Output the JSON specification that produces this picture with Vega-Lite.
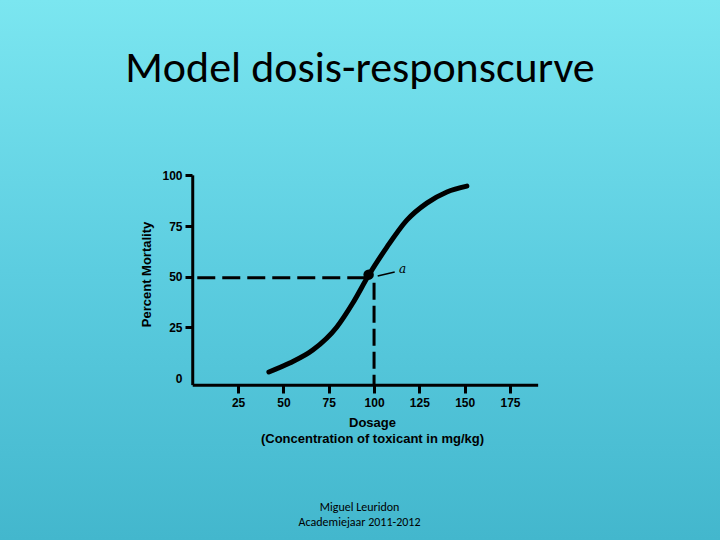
{
  "$schema": "https://vega.github.io/schema/vega-lite/v6.json",
  "width": 720,
  "height": 540,
  "autosize": {"type": "none"},
  "padding": 0,
  "background": "#5ccde0",
  "view": {
    "stroke": null,
    "fill": {
      "gradient": "linear",
      "x1": 0, "y1": 0, "x2": 0, "y2": 1,
      "stops": [
        {"offset": 0, "color": "#7be6f0"},
        {"offset": 0.5, "color": "#5ccde0"},
        {"offset": 1, "color": "#43b7cd"}
      ]
    }
  },
  "title": {
    "text": "Model dosis-responscurve",
    "orient": "top",
    "anchor": "middle",
    "frame": "group",
    "offset": -126,
    "baseline": "alphabetic",
    "font": "Carlito, Lato",
    "fontSize": 44,
    "fontWeight": "normal",
    "color": "black"
  },
  "layer": [
    {
      "data": {
        "values": [
          {"dose": 42, "mortality": 3.0},
          {"dose": 53.5, "mortality": 7.4},
          {"dose": 66.2, "mortality": 13.8},
          {"dose": 79.5, "mortality": 25.2},
          {"dose": 88.3, "mortality": 37.0},
          {"dose": 97.1, "mortality": 50.8},
          {"dose": 107.1, "mortality": 64.6},
          {"dose": 118.1, "mortality": 77.9},
          {"dose": 129.1, "mortality": 86.3},
          {"dose": 140.2, "mortality": 91.8},
          {"dose": 151.2, "mortality": 94.7}
        ]
      },
      "mark": {"type": "line", "color": "black", "strokeWidth": 5, "interpolate": "monotone", "strokeCap": "round"},
      "encoding": {
        "x": {
          "field": "dose",
          "type": "quantitative",
          "scale": {"domain": [-106.3, 290.8], "nice": false, "zero": false},
          "axis": {
            "title": ["Dosage", "(Concentration of toxicant in mg/kg)"],
            "values": [25, 50, 75, 100, 125, 150, 175],
            "offset": -155,
            "domain": false,
            "grid": false,
            "tickSize": 8,
            "tickWidth": 3,
            "tickColor": "black",
            "labelFont": "Liberation Sans",
            "labelFontWeight": "bold",
            "labelFontSize": 12,
            "labelColor": "black",
            "labelPadding": 4,
            "labelFlush": false,
            "labelOverlap": false,
            "titleFont": "Liberation Sans",
            "titleFontWeight": "bold",
            "titleFontSize": 13,
            "titleColor": "black",
            "titleX": 372,
            "titleY": 31,
            "titleAlign": "center",
            "titleBaseline": "top",
            "titleLineHeight": 16
          }
        },
        "y": {
          "field": "mortality",
          "type": "quantitative",
          "scale": {"domain": [-79.9, 186.5], "nice": false, "zero": false},
          "axis": {
            "title": "Percent Mortality",
            "values": [0, 25, 50, 75, 100],
            "offset": -192,
            "domain": false,
            "grid": false,
            "tickSize": 7,
            "tickWidth": 3,
            "tickColor": "black",
            "tickOpacity": {"condition": {"test": "datum.value === 0", "value": 0}, "value": 1},
            "labelFont": "Liberation Sans",
            "labelFontWeight": "bold",
            "labelFontSize": 12,
            "labelColor": "black",
            "labelPadding": 3,
            "labelFlush": false,
            "labelOverlap": false,
            "titleFont": "Liberation Sans",
            "titleFontWeight": "bold",
            "titleFontSize": 13,
            "titleColor": "black",
            "titleX": -46,
            "titleY": 274,
            "titleAngle": 270,
            "titleAlign": "center",
            "titleBaseline": "middle"
          }
        }
      }
    },
    {
      "data": {"values": [{}]},
      "mark": {"type": "rule", "color": "black", "strokeWidth": 3},
      "encoding": {"x": {"datum": 0}, "x2": {"datum": 190.5}, "y": {"datum": -3.5}}
    },
    {
      "data": {"values": [{}]},
      "mark": {"type": "rule", "color": "black", "strokeWidth": 3},
      "encoding": {"x": {"datum": 0}, "y": {"datum": -3.5}, "y2": {"datum": 100}}
    },
    {
      "data": {"values": [{}]},
      "mark": {"type": "rule", "color": "black", "strokeWidth": 3, "strokeDash": [18, 7]},
      "encoding": {"x": {"datum": 2.5}, "x2": {"datum": 96}, "y": {"datum": 49.5}}
    },
    {
      "data": {"values": [{}]},
      "mark": {"type": "rule", "color": "black", "strokeWidth": 3, "strokeDash": [17, 6]},
      "encoding": {"x": {"datum": 100}, "y": {"datum": 47}, "y2": {"datum": -3.5}}
    },
    {
      "data": {"values": [{}]},
      "mark": {"type": "point", "filled": true, "color": "black", "opacity": 1, "size": 110},
      "encoding": {"x": {"datum": 97}, "y": {"datum": 51}}
    },
    {
      "data": {"values": [{}]},
      "mark": {"type": "rule", "color": "black", "strokeWidth": 1.5},
      "encoding": {"x": {"datum": 102}, "x2": {"datum": 111.4}, "y": {"datum": 50.3}, "y2": {"datum": 52.3}}
    },
    {
      "data": {"values": [{}]},
      "mark": {"type": "text", "text": "a", "font": "DejaVu Serif", "fontStyle": "italic", "fontSize": 12, "align": "center", "baseline": "alphabetic", "color": "black"},
      "encoding": {"x": {"datum": 115.7}, "y": {"datum": 51.8}}
    },
    {
      "data": {"values": [{}]},
      "mark": {"type": "text", "font": "Carlito, Lato", "fontSize": 12, "align": "center", "baseline": "alphabetic", "lineHeight": 15, "color": "black"},
      "encoding": {
        "x": {"datum": 92},
        "y": {"datum": -65.5},
        "text": {"value": ["Miguel Leuridon", "Academiejaar 2011-2012"]}
      }
    }
  ]
}
